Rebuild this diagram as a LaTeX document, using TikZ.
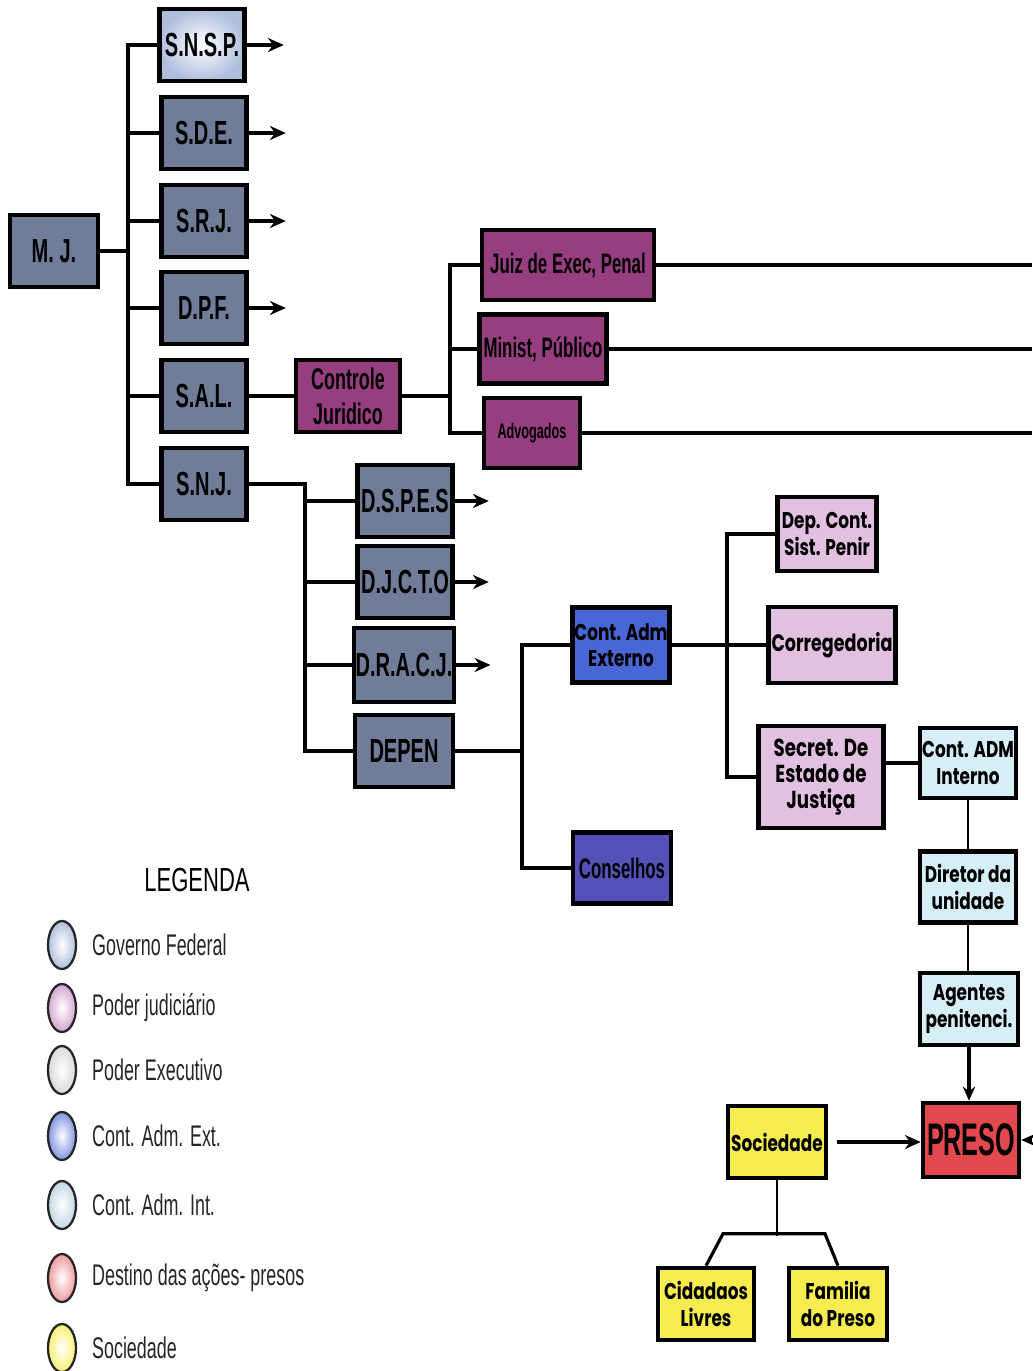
\documentclass[tikz,border=0pt]{standalone}
\usepackage{fontspec}
\setmainfont{Liberation Sans}
\newfontfamily\condf[FakeStretch=0.6]{Liberation Sans}
\newfontfamily\narrowf[FakeStretch=0.55]{Liberation Sans}
\newfontfamily\roundf[FakeStretch=0.74]{Poppins}
\newfontfamily\legf[FakeStretch=0.6]{Liberation Sans}
\newfontfamily\legtf[FakeStretch=0.66]{Liberation Sans}
\usetikzlibrary{arrows.meta,shapes.geometric}
\definecolor{gblue}{RGB}{112,124,152}
\definecolor{snspc}{RGB}{176,190,222}
\definecolor{magc}{RGB}{150,62,128}
\definecolor{caec}{RGB}{72,102,212}
\definecolor{consc}{RGB}{84,82,184}
\definecolor{pinkc}{RGB}{226,192,226}
\definecolor{cyanc}{RGB}{214,238,246}
\definecolor{presoc}{RGB}{226,72,78}
\definecolor{yelc}{RGB}{246,236,80}
\begin{document}
\begin{tikzpicture}[x=0.02cm,y=-0.02cm,
  box/.style={draw=black, line width=2.6pt, inner sep=1pt, align=center},
  gbox/.style={box, fill=gblue, minimum width=1.7cm, minimum height=1.44cm,
    font=\condf\bfseries\fontsize{19}{19}\selectfont},
  mbox/.style={box, fill=magc, font=\condf\bfseries\fontsize{16}{17}\selectfont},
  rbox/.style={box, font=\roundf\bfseries\fontsize{13}{15}\selectfont},
  conn/.style={line width=1.8pt},
  thin/.style={line width=1.3pt},
  arr/.style={conn, -{Stealth[length=9pt,width=8pt]}},
  ell/.style={ellipse, draw=black!85, line width=1.3pt, minimum width=0.56cm, minimum height=0.96cm, inner sep=0pt},
  leglab/.style={anchor=west, xshift=5pt, text=black!85, font=\legf\fontsize{17}{17}\selectfont}]
\useasboundingbox (0,0) rectangle (1032,1371);
\coordinate (t1) at (128,0);
\coordinate (t2) at (305,0);
\coordinate (t3) at (522,0);
\coordinate (t4) at (727,0);
\coordinate (tj) at (450,0);
\coordinate (edge) at (1032,0);

% Governo federal column
\node[gbox, minimum width=1.76cm] (mj) at (54,251) {M. J.};
\node[gbox, shade, inner color=white, outer color=snspc, draw=black] (snsp) at (202,45) {S.N.S.P.};
\node[gbox] (sde) at (204,133) {S.D.E.};
\node[gbox] (srj) at (204,221) {S.R.J.};
\node[gbox] (dpf) at (204,308) {D.P.F.};
\node[gbox] (sal) at (204,396) {S.A.L.};
\node[gbox] (snj) at (204,484) {S.N.J.};

\draw[conn] (mj.east) -- (mj.east -| t1);
\draw[conn] (snsp.west) -- (snsp.west -| t1) -- (snj.west -| t1) -- (snj.west);
\foreach \n in {sde,srj,dpf,sal} \draw[conn] (\n.west -| t1) -- (\n.west);
\foreach \n in {snsp,sde,srj,dpf} \draw[arr] (\n.east) -- ++(37,0);

% Controle juridico
\node[mbox, minimum width=2.08cm, minimum height=1.44cm, font=\condf\bfseries\fontsize{17}{20}\selectfont] (cj) at (348,396) {Controle\\Juridico};
\node[mbox, minimum width=3.44cm, minimum height=1.40cm] (juiz) at (568,265) {Juiz de Exec, Penal};
\node[mbox, minimum width=2.54cm, minimum height=1.38cm] (mp) at (543,349) {Minist, Público};
\node[mbox, minimum width=1.92cm, minimum height=1.40cm, font=\condf\bfseries\fontsize{12}{12}\selectfont] (adv) at (532,433) {Advogados};
\draw[conn] (sal.east) -- (cj.west);
\draw[conn] (cj.east) -- (cj.east -| tj);
\draw[conn] (juiz.west) -- (juiz.west -| tj) -- (adv.west -| tj) -- (adv.west);
\draw[conn] (mp.west -| tj) -- (mp.west);
\draw[conn] (juiz.east) -- (juiz.east -| edge);
\draw[conn] (mp.east) -- (mp.east -| edge);
\draw[conn] (adv.east) -- (adv.east -| edge);

% S.N.J. branch
\node[gbox, minimum width=1.90cm] (dspes) at (405,501) {D.S.P.E.S};
\node[gbox, minimum width=1.90cm] (djcto) at (405,582) {D.J.C.T.O};
\node[gbox, minimum width=1.96cm, minimum height=1.48cm] (dracj) at (404,665) {D.R.A.C.J.};
\node[gbox, minimum width=1.96cm] (depen) at (404,751) {DEPEN};
\draw[conn] (snj.east) -- (snj.east -| t2) -- (depen.west -| t2) -- (depen.west);
\foreach \n in {dspes,djcto,dracj} \draw[conn] (\n.west -| t2) -- (\n.west);
\foreach \n in {dspes,djcto,dracj} \draw[arr] (\n.east) -- ++(34,0);

% DEPEN branch
\node[rbox, fill=caec, minimum width=1.92cm, minimum height=1.50cm] (cae) at (621,645) {Cont. Adm\\Externo};
\node[box, fill=consc, minimum width=1.96cm, minimum height=1.42cm, font=\condf\bfseries\fontsize{16}{16}\selectfont] (cons) at (622,868) {Conselhos};
\draw[conn] (depen.east) -- (depen.east -| t3);
\draw[conn] (cae.west) -- (cae.west -| t3) -- (cons.west -| t3) -- (cons.west);

% Cont. Adm. Externo branch
\node[rbox, fill=pinkc, minimum width=1.98cm, minimum height=1.48cm] (dep) at (827,534) {Dep. Cont.\\Sist. Penir};
\node[rbox, fill=pinkc, minimum width=2.54cm, minimum height=1.52cm, font=\roundf\bfseries\fontsize{13.5}{15}\selectfont] (corr) at (832,645) {Corregedoria};
\node[rbox, fill=pinkc, minimum width=2.50cm, minimum height=2.04cm, font=\roundf\bfseries\fontsize{14}{15}\selectfont] (sec) at (821,777) {Secret. De\\Estado de\\Justiça};
\draw[conn] (cae.east) -- (corr.west);
\draw[conn] (dep.west) -- (dep.west -| t4) -- (sec.west -| t4) -- (sec.west);

% Controle interno chain
\node[rbox, fill=cyanc, minimum width=1.92cm, minimum height=1.40cm] (cai) at (968,763) {Cont. ADM\\Interno};
\node[rbox, fill=cyanc, minimum width=1.92cm, minimum height=1.42cm] (dir) at (968,887) {Diretor da\\unidade};
\node[rbox, fill=cyanc, minimum width=1.96cm, minimum height=1.44cm] (age) at (969,1009) {Agentes\\penitenci.};
\node[box, fill=presoc, minimum width=1.92cm, minimum height=1.48cm, font=\narrowf\bfseries\fontsize{26}{26}\selectfont] (preso) at (971,1140) {PRESO};
\draw[conn] (cai.west -| sec.east) -- (cai.west);
\draw[thin] (cai.south) -- (dir.north);
\draw[thin] (dir.south) -- (dir.south |- age.north);
\draw[conn, -{Stealth[length=8pt,width=7pt]}] (age.south) -- (age.south |- preso.north);
\draw[conn, -{Stealth[length=8pt,width=7pt]}] (preso.east -| edge) -- (preso.east);

% Sociedade
\node[rbox, fill=yelc, minimum width=1.96cm, minimum height=1.44cm] (soc) at (777,1142) {Sociedade};
\node[rbox, fill=yelc, minimum width=1.92cm, minimum height=1.44cm] (cid) at (706,1304) {Cidadaos\\Livres};
\node[rbox, fill=yelc, minimum width=1.96cm, minimum height=1.44cm] (fam) at (838,1304) {Familia\\do Preso};
\draw[conn, -{Stealth[length=9pt,width=8pt]}, shorten <=5pt] (soc.east) -- (soc.east -| preso.west);
\coordinate (sj) at (777,1236);
\draw[thin] (soc.south) -- (sj);
\draw[conn] (cid.north) -- ++(17,-32) -- ++(102,0) -- (fam.north);

% Legend
\node[font=\legtf\fontsize{19}{19}\selectfont] (leg) at (197,880) {LEGENDA};
\node[ell, inner color=white, outer color=snspc] (l1) at (62,945) {};
\node[ell, inner color=white, outer color=pinkc!80!magc] (l2) at (62,1008) {};
\node[ell, inner color=white, outer color=white!85!black] (l3) at (62,1070) {};
\node[ell, inner color=white, outer color=caec!70] (l4) at (62,1136) {};
\node[ell, inner color=white, outer color=cyanc!80!gblue] (l5) at (62,1205) {};
\node[ell, inner color=white, outer color=presoc!55] (l6) at (62,1278) {};
\node[ell, inner color=white, outer color=yelc!80] (l7) at (62,1348) {};
\node[leglab] at (l1.east) {Governo Federal};
\node[leglab] at (l2.east) {Poder judiciário};
\node[leglab] at (l3.east) {Poder Executivo};
\node[leglab] at (l4.east) {Cont. Adm. Ext.};
\node[leglab] at (l5.east) {Cont. Adm. Int.};
\node[leglab] at (l6.east) {Destino das ações- presos};
\node[leglab] at (l7.east) {Sociedade};
\end{tikzpicture}
\end{document}
